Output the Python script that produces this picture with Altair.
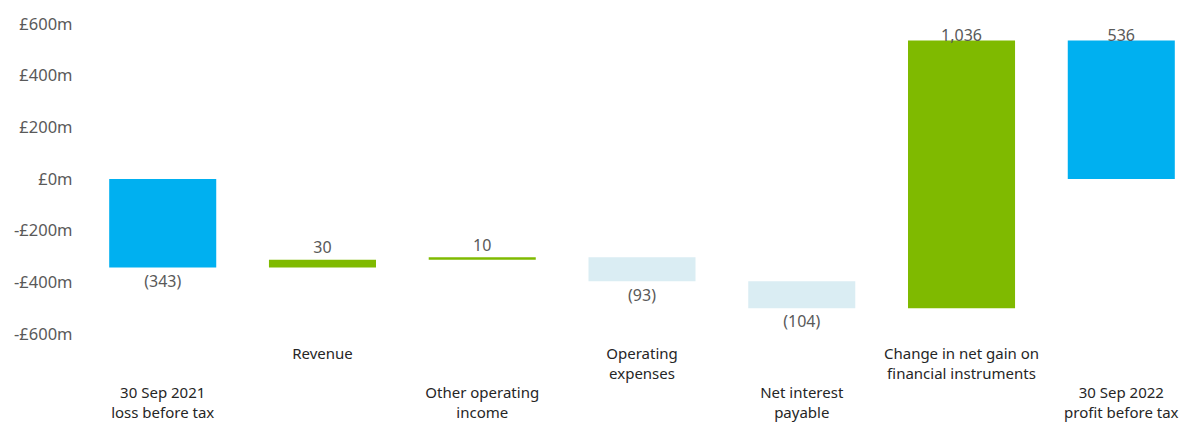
import json
import altair as alt
import pandas as pd

# ---- data ----
categories = [
    "30 Sep 2021\nloss before tax",
    "Revenue",
    "Other operating\nincome",
    "Operating\nexpenses",
    "Net interest\npayable",
    "Change in net gain on\nfinancial instruments",
    "30 Sep 2022\nprofit before tax",
]
deltas = [-343, 30, 10, -93, -104, 1036, 536]
kinds = ["total", "increase", "increase", "decrease", "decrease", "increase", "total"]
value_labels = ["(343)", "30", "10", "(93)", "(104)", "1,036", "536"]
label_rows = [1, 0, 1, 0, 1, 0, 1]
y_ticks = [-600, -400, -200, 0, 200, 400, 600]

kind_domain = ["total", "increase", "decrease"]
kind_colors = ["#00B0F0", "#7FBA00", "#DAEDF3"]

# ---- waterfall table ----
rows = []
running = 0
for cat, d, k, lab in zip(categories, deltas, kinds, value_labels):
    if k == "total":
        start, end = 0, d
        running = d
    else:
        start, end = running, running + d
        running = running + d
    rows.append({
        "category": cat, "start": start, "end": end, "delta": d, "kind": k,
        "top": max(start, end), "bottom": min(start, end), "vlabel": lab,
    })
df = pd.DataFrame(rows)

upper_row = [c for c, r in zip(categories, label_rows) if r == 0]
test_expr = "indexof(" + json.dumps(upper_row) + ", datum.value) >= 0"

FONT = "Noto Sans"

x_enc = alt.X(
    "category:N", sort=categories, title=None,
    scale=alt.Scale(paddingInner=0.33, paddingOuter=0.02),
    axis=alt.Axis(
        labelAngle=0, ticks=False, domain=False, grid=False,
        labelExpr="split(datum.label, '\\n')",
        labelFont=FONT, labelFontSize=15, labelColor="#262626",
        labelLineHeight=20, labelBaseline="top", labelOverlap=False, labelLimit=0,
        labelPadding={"condition": {"test": test_expr, "value": 12}, "value": 51},
    ),
)

y_scale = alt.Scale(domain=[-600, 600], nice=False, zero=False)

bars = alt.Chart(df).mark_bar().encode(
    x=x_enc,
    y=alt.Y("start:Q", scale=y_scale, title=None,
            axis=alt.Axis(values=y_ticks, ticks=False, domain=False, grid=False,
                          labelExpr="datum.value < 0 ? '-£' + abs(datum.value) + 'm' : '£' + datum.value + 'm'",
                          labelFont=FONT, labelFontSize=16.5, labelColor="#595959",
                          labelPadding=34)),
    y2="end:Q",
    color=alt.Color("kind:N", scale=alt.Scale(domain=kind_domain, range=kind_colors), legend=None),
)

labels = alt.Chart(df).transform_calculate(
    ly="datum.delta >= 0 ? min(datum.top + 45, 555) : datum.bottom - 55"
).mark_text(font=FONT, fontSize=16, color="#595959", baseline="middle").encode(
    x=alt.X("category:N", sort=categories),
    y=alt.Y("ly:Q", scale=y_scale),
    text="vlabel:N",
)

chart = alt.layer(bars, labels).properties(
    width=1072, height=310,
    autosize=alt.AutoSizeParams(type="none"),
    padding={"left": 98, "top": 16, "right": 12, "bottom": 88},
).configure(background="white").configure_view(stroke=None)

chart.save("out.html", embed_options={"renderer": "svg", "actions": False})
